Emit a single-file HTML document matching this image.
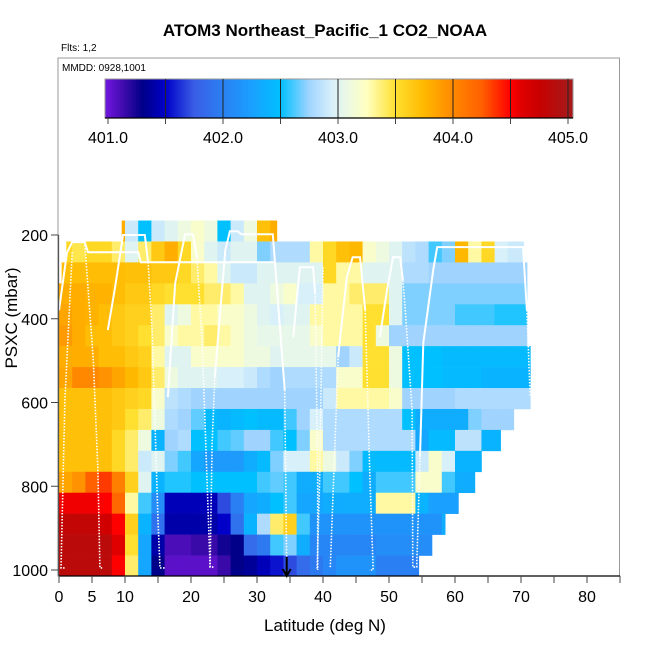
<!DOCTYPE html>
<html><head><meta charset="utf-8"><style>
html,body{margin:0;padding:0;background:#fff;}
svg{display:block;font-family:"Liberation Sans",Arial,sans-serif;}
</style></head><body>
<svg id="chart" width="650" height="650" viewBox="0 0 650 650" xmlns="http://www.w3.org/2000/svg">
<rect x="0" y="0" width="650" height="650" fill="#fff"/>
<text x="325" y="36" text-anchor="middle" font-size="17" font-weight="bold">ATOM3 Northeast_Pacific_1 CO2_NOAA</text>
<text x="61" y="51" font-size="10">Flts: 1,2</text>
<g id="heat"></g>
<g id="tracks"></g>
<rect x="58" y="58" width="561.5" height="518" fill="none" stroke="#999" stroke-width="1"/>
<text x="62" y="71" font-size="10">MMDD: 0928,1001</text>
<g id="cbar"></g>
<g id="axes"></g>
<text x="325" y="631" text-anchor="middle" font-size="17">Latitude (deg N)</text>
<text x="0" y="0" transform="translate(17,318) rotate(-90)" text-anchor="middle" font-size="17">PSXC (mbar)</text>
</svg>
<script>
const NS="http://www.w3.org/2000/svg";
const rowPressures=[200,250,300,350,400,450,500,550,600,650,700,750,800,850,900,950,1000];
const binWidth=2;
const rowStart=[9.5,1.1,0.4,-0.2,-0.2,-0.2,-0.2,-0.2,-0.2,-0.2,-0.2,-0.2,-0.2,-0.2,-0.2,-0.2,-0.2];
const rowEnd=[33,70.4,70.9,70.9,70.9,70.9,71.4,71.4,71.4,68.9,66.9,65,63,60.5,58.5,56.5,54.5];
const n=null;
const r0=[n,n,n,n,403.8,402.9,402.5,402.9,403.0,403.1,403.2,403.1,402.5,402.9,403.1,403.7,403.8,n,n,n,n,n,n,n,n,n,n,n,n,n,n,n,n,n,n,n];
const r1=[403.55,403.45,403.55,403.55,403.4,403.0,403.4,403.65,403.8,403.55,403.2,403.0,402.9,403.0,403.0,402.7,402.8,402.8,402.8,403.3,403.55,403.7,403.75,403.2,403.1,403.0,402.85,402.8,402.6,402.7,403.75,403.3,403.55,402.95,402.9,402.9];
const r2=[403.72,403.72,403.72,403.72,403.72,403.7,403.7,403.65,403.65,403.55,403.4,403.3,403.0,402.9,402.9,403.0,403.0,403.0,403.0,403.0,403.55,403.3,403.3,403.0,403.0,403.0,402.8,402.8,402.75,402.75,402.75,402.75,402.75,402.75,402.75,402.75];
const r3=[403.8,403.8,403.78,403.78,403.72,403.65,403.65,403.55,403.5,403.5,403.5,403.4,403.4,403.3,403.0,403.0,403.1,403.2,402.95,402.95,403.3,403.3,403.4,403.4,403.4,403.0,402.7,402.7,402.7,402.7,402.7,402.7,402.7,402.7,402.7,402.7];
const r4=[403.85,403.8,403.78,403.72,403.65,403.6,403.6,403.4,403.0,403.1,403.3,403.3,403.2,403.2,403.1,403.0,402.95,403.0,403.0,403.3,403.3,403.3,403.3,403.5,403.5,403.0,402.7,402.7,402.7,402.7,402.6,402.6,402.6,402.55,402.55,402.55];
const r5=[403.9,403.8,403.72,403.72,403.65,403.6,403.5,403.4,403.2,403.3,403.3,403.4,403.3,403.2,403.1,403.05,403.05,403.05,403.05,403.2,403.3,403.3,403.3,403.5,403.1,402.75,402.75,402.75,402.75,402.75,402.75,402.75,402.75,402.75,402.75,402.75];
const r6=[403.8,403.8,403.8,403.72,403.72,403.65,403.6,403.3,403.0,403.0,403.2,403.2,403.2,403.2,403.1,403.1,403.0,403.05,403.05,403.05,403.05,402.75,402.9,403.5,403.5,403.1,402.5,402.5,402.5,402.45,402.45,402.45,402.45,402.45,402.45,402.45];
const r7=[403.85,404.0,404.0,403.95,403.85,403.75,403.65,403.4,403.1,403.0,403.0,403.0,402.95,402.95,402.9,402.8,402.75,402.8,402.8,402.8,402.8,403.2,403.2,403.5,403.5,403.1,402.5,402.5,402.5,402.45,402.45,402.45,402.4,402.4,402.4,402.4];
const r8=[403.7,403.7,403.7,403.7,403.65,403.6,403.55,403.2,402.85,402.8,402.75,402.75,402.75,402.75,402.75,402.75,402.75,402.75,402.75,402.75,402.9,403.3,403.3,403.3,403.3,403.2,402.75,402.75,402.75,402.75,402.8,402.8,402.8,402.8,402.8,402.8];
const r9=[403.7,403.7,403.7,403.7,403.65,403.5,403.4,403.1,402.8,402.75,402.65,402.45,402.4,402.45,402.5,402.45,402.45,402.6,402.75,402.95,402.8,402.8,402.8,402.8,402.8,402.8,402.5,402.35,402.35,402.35,402.35,402.7,402.75,402.75,402.75,n];
const r10=[403.7,403.7,403.7,403.7,403.55,403.4,403.1,402.4,402.75,402.8,402.5,402.5,402.6,402.65,402.75,402.75,402.6,402.5,402.7,403.2,402.8,402.8,402.8,402.8,402.8,402.8,402.8,402.3,402.45,402.45,402.85,402.85,402.4,402.4,n,n];
const r11=[403.7,403.7,403.7,403.7,403.55,403.4,402.9,403.0,402.7,402.6,402.3,402.2,402.2,402.2,402.35,402.45,402.7,402.95,402.95,403.3,403.1,402.9,402.7,402.45,402.45,402.45,402.45,402.9,403.2,402.95,402.4,402.4,n,n,n,n];
const r12=[403.85,403.95,404.25,404.35,404.05,403.6,403.0,402.4,402.55,402.55,402.5,402.5,402.5,402.5,402.5,402.6,402.65,402.6,402.35,402.35,402.6,402.6,402.5,402.35,402.6,402.6,402.6,403.2,403.2,402.6,402.35,402.35,n,n,n,n];
const r13=[404.55,404.55,404.55,404.5,404.2,403.3,402.6,402.1,401.45,401.45,401.45,401.45,401.7,402.0,402.3,402.35,402.5,402.6,402.3,402.3,402.35,402.35,402.35,402.35,403.3,403.3,403.3,402.4,402.25,402.25,402.25,n,n,n,n,n];
const r14=[404.8,404.8,404.8,404.7,404.5,403.6,402.4,401.9,401.4,401.4,401.4,401.4,401.5,401.9,402.4,402.8,403.4,403.6,402.6,402.15,402.15,402.15,402.15,402.15,402.15,402.15,402.15,402.15,402.15,402.35,n,n,n,n,n,n];
const r15=[404.85,404.85,404.85,404.85,404.6,403.5,402.3,401.4,401.1,401.1,401.15,401.15,401.25,401.3,401.85,401.95,402.6,402.7,402.35,402.05,402.05,402.05,402.05,402.05,402.1,402.1,402.1,402.1,402.1,n,n,n,n,n,n,n];
const r16=[404.85,404.85,404.85,404.85,404.5,403.4,402.3,401.3,401.05,401.05,401.05,401.05,401.15,401.3,401.35,401.45,401.55,401.7,401.85,401.95,402.05,402.15,402.15,402.15,402.0,402.0,402.0,402.0,n,n,n,n,n,n,n,n];
const rowValues=[r0,r1,r2,r3,r4,r5,r6,r7,r8,r9,r10,r11,r12,r13,r14,r15,r16];
const xTicks=[0,5,10,15,20,25,30,35,40,45,50,55,60,65,70,75,80,85];
const xLabels=[0,5,10,20,30,40,50,60,70,80];
const yTicks=[200,400,600,800,1000];
const cbarLabels=[401,402,403,404,405];
const cbarLines=[401.5,402,402.5,403,403.5,404,404.5,405];
const trackSolid=[
 [[0,380],[1.2,243],[2.0,217],[3.9,217],[4.4,241],[12.0,241],[12.4,265],[32.7,265]],
 [[7.4,427],[8.5,325],[9.7,200],[13.0,200],[13.5,265]],
 [[16.5,587],[17.6,315],[19.1,198],[20.3,198],[20.9,253]],
 [[23.6,539],[25.2,236],[25.9,191],[27.1,191],[27.6,198],[32.4,198],[32.7,260],[34.2,570]],
 [[35.5,444],[36.1,339],[36.5,277],[38.5,277],[38.8,339]],
 [[42.3,492],[42.6,444],[43.6,301],[44.5,253],[45.6,253],[46.4,379]],
 [[48.6,444],[49.7,332],[50.6,253],[51.7,253],[52.1,308]],
 [[54.7,730],[55.2,458],[56.7,284],[57.3,229],[70.3,229],[70.9,379]]
];
const trackDotted=[
 [[34.2,570],[34.5,990]],
 [[3.9,217],[5.2,499],[5.9,761],[6.2,995],[6.6,995]],
 [[2.0,241],[0.9,594],[0.3,995],[1.0,995]],
 [[13.5,265],[14.1,427],[15.0,881],[15.3,995],[16.0,995]],
 [[20.9,253],[21.7,458],[22.9,993],[23.6,993]],
 [[22.9,993],[23.2,700],[23.6,539]],
 [[38.8,339],[39.2,778],[39.2,1000]],
 [[40.0,277],[39.5,778],[39.1,1000]],
 [[41.1,993],[42.3,492]],
 [[46.4,379],[47.1,778],[47.6,1000],[47.0,1000]],
 [[52.1,308],[52.4,363],[53.5,618],[53.6,993],[54.2,993],[54.7,730]],
 [[70.9,379],[71.4,587]]
];
const arrowLat=34.5;

const X=lat=>59+6.6*lat;
const Y=p=>570-(1000-p)*0.41875;
const CB=v=>108+(v-401)*115;
const stops=[[400.9,"#7d22e8"],[401.0,"#6a14d8"],[401.15,"#3a0aa8"],[401.3,"#000088"],[401.5,"#0000c8"],[401.75,"#3a5ee6"],[402.0,"#2a80f2"],[402.25,"#1aa0ff"],[402.5,"#00c0ff"],[402.6,"#40c8ff"],[402.75,"#a0d4ff"],[402.95,"#d8f0fa"],[403.1,"#eefae0"],[403.25,"#ffffc0"],[403.5,"#ffe030"],[403.75,"#ffb800"],[404.0,"#ff8800"],[404.25,"#ff6000"],[404.5,"#ff0000"],[404.6,"#e00000"],[404.75,"#c80000"],[405.0,"#a81818"],[405.2,"#a81818"]];
function hex(h){return [1,3,5].map(i=>parseInt(h.substr(i,2),16));}
function cmap(v){
 if(v<=stops[0][0])return stops[0][1];
 for(let i=1;i<stops.length;i++){
  if(v<=stops[i][0]){
   const a=hex(stops[i-1][1]),b=hex(stops[i][1]);
   const t=(v-stops[i-1][0])/(stops[i][0]-stops[i-1][0]);
   return "rgb("+a.map((c,k)=>Math.round(c+(b[k]-c)*t)).join(",")+")";
  }
 }
 return stops[stops.length-1][1];
}
function mk(tag,attrs,parent){const e=document.createElementNS(NS,tag);for(const k in attrs)e.setAttribute(k,attrs[k]);parent.appendChild(e);return e;}

const heat=document.getElementById("heat");
rowValues.forEach((vals,ri)=>{
 const p=rowPressures[ri];
 const y0=Y(p-25)-4, y1=Math.min(Y(p+25)-4,576);
 vals.forEach((v,k)=>{
  if(v===null)return;
  const a=Math.max(k*binWidth,rowStart[ri]), b=Math.min((k+1)*binWidth,rowEnd[ri]);
  if(b<=a)return;
  const r=mk("rect",{x:X(a),y:y0,width:X(b)-X(a)+0.4,height:y1-y0+0.3,fill:cmap(v)},heat);
  
  
 });
});

const tr=document.getElementById("tracks");
const pts=arr=>arr.map(q=>X(q[0]).toFixed(1)+","+Y(q[1]).toFixed(1)).join(" ");
trackSolid.forEach(t=>{
 const l=mk("polyline",{points:pts(t),fill:"none",stroke:"#fff","stroke-width":2},tr);
 
 
});
trackDotted.forEach(t=>{
 const l=mk("polyline",{points:pts(t),fill:"none",stroke:"#fff","stroke-width":1.6,"stroke-dasharray":"1.5,1.5"},tr);
 
 
});
const arr=mk("path",{d:`M${X(arrowLat)},557 L${X(arrowLat)},576 M${X(arrowLat)-4},569 L${X(arrowLat)},576 L${X(arrowLat)+4},569`,stroke:"#000","stroke-width":2,fill:"none"},tr);



const cb=document.getElementById("cbar");
for(let x=105;x<573;x+=1){
 const v=401+(x+0.5-108)/115;
 const r=mk("rect",{x:x,y:79,width:1.2,height:39,fill:cmap(v)},cb);
 
 
}
mk("rect",{x:105,y:79,width:468,height:39,fill:"none",stroke:"#999","stroke-width":1},cb);
cbarLines.forEach(v=>{
 const l=mk("line",{x1:CB(v),x2:CB(v),y1:79,y2:118,stroke:"#222","stroke-width":1},cb);
 
 
});
mk("line",{x1:105,x2:573,y1:118,y2:118,stroke:"#000","stroke-width":1.2},cb);
[401].concat(cbarLines).forEach(v=>{mk("line",{x1:CB(v),x2:CB(v),y1:118,y2:124,stroke:"#444","stroke-width":1},cb);});
cbarLabels.forEach(v=>{
 const t=mk("text",{x:CB(v),y:143,"text-anchor":"middle","font-size":16},cb);
 t.textContent=v.toFixed(1);
 
 
});

const ax=document.getElementById("axes");
mk("line",{x1:58.5,x2:620,y1:576,y2:576,stroke:"#000","stroke-width":1.3},ax);
mk("line",{x1:58.5,x2:58.5,y1:Y(200),y2:576,stroke:"#555","stroke-width":1.3},ax);
xTicks.forEach(v=>{mk("line",{x1:X(v),x2:X(v),y1:576,y2:583,stroke:"#444","stroke-width":1},ax);});
xLabels.forEach(v=>{
 const t=mk("text",{x:X(v),y:602,"text-anchor":"middle","font-size":16},ax);
 t.textContent=v;
 
 
});
yTicks.forEach(v=>{
 mk("line",{x1:51,x2:58.5,y1:Y(v),y2:Y(v),stroke:"#444","stroke-width":1},ax);
 const t=mk("text",{x:48,y:Y(v)+6,"text-anchor":"end","font-size":16},ax);
 t.textContent=v;
 
 
});
</script>
</body></html>
